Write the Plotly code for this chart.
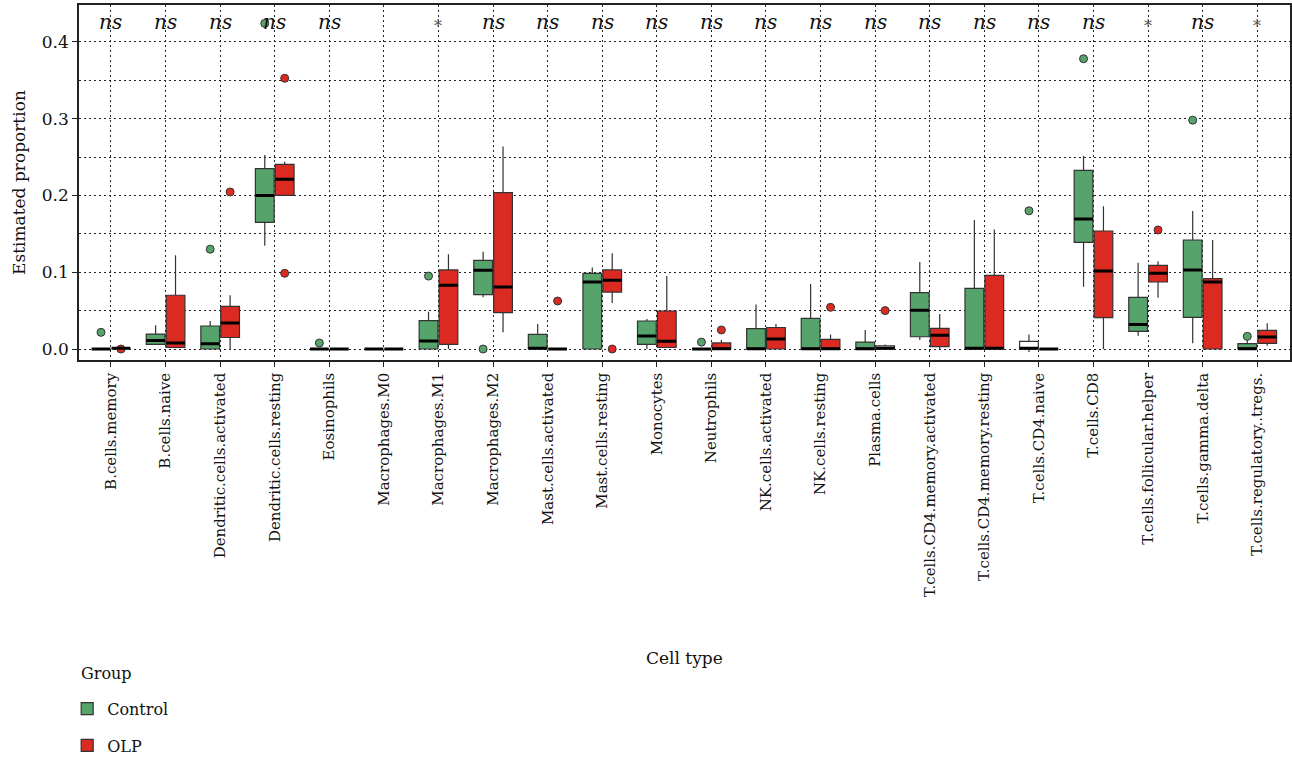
import plotly.graph_objects as go

# Immune cell types (CIBERSORT-style fractions)
cell_types = [
    "B.cells.memory", "B.cells.naive", "Dendritic.cells.activated",
    "Dendritic.cells.resting", "Eosinophils", "Macrophages.M0",
    "Macrophages.M1", "Macrophages.M2", "Mast.cells.activated",
    "Mast.cells.resting", "Monocytes", "Neutrophils", "NK.cells.activated",
    "NK.cells.resting", "Plasma.cells", "T.cells.CD4.memory.activated",
    "T.cells.CD4.memory.resting", "T.cells.CD4.naive", "T.cells.CD8",
    "T.cells.follicular.helper", "T.cells.gamma.delta",
    "T.cells.regulatory..tregs.",
]

# Control group box statistics
ctrl_q1 = [0, 0.006, 0.0, 0.165, 0, 0, 0.0, 0.0708, 0, 0, 0.006, 0, 0, 0, 0,
           0.016, 0, 0, 0.139, 0.023, 0.0413, 0]
ctrl_median = [0, 0.011, 0.007, 0.200, 0, 0, 0.0104, 0.1025, 0.001, 0.0873,
               0.017, 0, 0.0005, 0.0005, 0.0005, 0.0504, 0.001, 0.001, 0.1693,
               0.032, 0.1029, 0.0005]
ctrl_q3 = [0, 0.0195, 0.030, 0.235, 0, 0, 0.037, 0.1155, 0.019, 0.0986, 0.0365,
           0, 0.0265, 0.040, 0.009, 0.0734, 0.079, 0.010, 0.2327, 0.0673,
           0.142, 0.007]
ctrl_lower = [0, 0.006, 0.0, 0.1346, 0, 0, 0.0, 0.0673, 0, 0, 0.0, 0, 0, 0, 0,
              0.0117, 0, -0.004, 0.0812, 0.0174, 0.0074, 0]
ctrl_upper = [0, 0.031, 0.0365, 0.2527, 0, 0, 0.0486, 0.1268, 0.0326, 0.106,
              0.039, 0, 0.058, 0.0847, 0.0247, 0.1133, 0.168, 0.019, 0.2514,
              0.1125, 0.1798, 0.0117]
ctrl_outliers = [[0.0217], [], [0.130], [0.424], [0.0078], [], [0.095], [0.0],
                 [], [], [], [0.009], [], [], [], [], [], [0.180], [0.378], [],
                 [0.298], [0.0165]]

# OLP group box statistics
olp_q1 = [0.001, 0.002, 0.015, 0.200, 0, 0, 0.006, 0.0473, 0, 0.0742, 0.002,
          0.0, 0, 0, 0, 0.003, 0, 0, 0.0408, 0.0873, 0, 0.0074]
olp_median = [0.001, 0.008, 0.034, 0.221, 0, 0, 0.083, 0.0808, 0, 0.0894,
              0.010, 0.0005, 0.013, 0.0005, 0.001, 0.018, 0.001, 0, 0.1016,
              0.0986, 0.0873, 0.0156]
olp_q3 = [0.001, 0.070, 0.0556, 0.2405, 0, 0, 0.103, 0.2036, 0, 0.103, 0.0495,
          0.008, 0.028, 0.0126, 0.004, 0.027, 0.096, 0, 0.1537, 0.109, 0.0916,
          0.0243]
olp_lower = [0.001, 0.002, 0.0, 0.200, 0, 0, 0.0, 0.0217, 0, 0.060, 0.002, 0.0,
             0, 0, 0, 0.0, 0, 0, 0.0, 0.0669, 0, 0.0043]
olp_upper = [0.001, 0.122, 0.070, 0.244, 0, 0, 0.1233, 0.2636, 0, 0.1246,
             0.095, 0.0117, 0.0326, 0.019, 0.006, 0.0456, 0.1555, 0, 0.1858,
             0.1142, 0.142, 0.0334]
olp_outliers = [[0.0], [], [0.2045], [0.3526, 0.0986], [], [], [], [], [0.0625],
                [0.0], [], [0.0248], [], [0.0543], [0.050], [], [], [], [], [0.155],
                [], []]

# Boxes drawn without fill
ctrl_hollow = ["T.cells.CD4.naive"]
olp_hollow = ["Plasma.cells"]

# Wilcoxon significance labels
signif = ["ns", "ns", "ns", "ns", "ns", "", "*", "ns", "ns", "ns", "ns", "ns",
          "ns", "ns", "ns", "ns", "ns", "ns", "ns", "*", "ns", "*"]

GREEN = "#56A36C"
RED = "#DA2A21"
EDGE = "#333333"
FONT = "DejaVu Serif"
INK = "#111111"
DOTS = "2px,3px"

groups = [
    ("Control", GREEN, ctrl_q1, ctrl_median, ctrl_q3, ctrl_lower, ctrl_upper,
     ctrl_outliers, ctrl_hollow),
    ("OLP", RED, olp_q1, olp_median, olp_q3, olp_lower, olp_upper,
     olp_outliers, olp_hollow),
]

fig = go.Figure()


def pick(values, idx):
    return [values[i] for i in idx]


for name, color, q1, med, q3, lo, hi, outl, hollow in groups:
    filled = [i for i, c in enumerate(cell_types) if c not in hollow]
    empty = [i for i, c in enumerate(cell_types) if c in hollow]
    for idx, fill, show in ((filled, color, True), (empty, "white", False)):
        if not idx:
            continue
        fig.add_trace(go.Box(
            name=name, legendgroup=name, showlegend=show, offsetgroup=name,
            x=pick(cell_types, idx), y=pick(outl, idx),
            q1=pick(q1, idx), median=pick(med, idx), q3=pick(q3, idx),
            lowerfence=pick(lo, idx), upperfence=pick(hi, idx),
            fillcolor=fill, line=dict(color=EDGE, width=1.2),
            whiskerwidth=0, boxpoints="outliers", pointpos=0, jitter=0,
            marker=dict(color=color, size=8, line=dict(color=EDGE, width=1)),
        ))
    # thick median bars
    fig.add_trace(go.Box(
        name=name, legendgroup=name, showlegend=False, offsetgroup=name,
        x=cell_types, q1=med, median=med, q3=med, lowerfence=med, upperfence=med,
        fillcolor="rgba(0,0,0,0)", line=dict(color="black", width=3),
        whiskerwidth=0, boxpoints=False, hoverinfo="skip",
    ))

# significance labels above each pair
for cat, lab in zip(cell_types, signif):
    if not lab:
        continue
    if lab == "ns":
        fig.add_annotation(x=cat, y=0.952, xref="x", yref="paper", text="<i>ns</i>",
                           yanchor="middle", showarrow=False,
                           font=dict(family=FONT, size=20, color=INK))
    else:
        fig.add_annotation(x=cat, y=0.94, xref="x", yref="paper", text=lab,
                           yanchor="middle", showarrow=False,
                           font=dict(family=FONT, size=16, color="#555"))

# axis titles and legend heading
fig.add_annotation(x=0.5, y=-0.839, xref="paper", yref="paper", text="Cell type",
                   yanchor="middle", showarrow=False,
                   font=dict(family=FONT, size=17, color=INK))
fig.add_annotation(x=-0.05, y=0.5, xref="paper", yref="paper",
                   text="Estimated proportion", textangle=-90, showarrow=False,
                   xanchor="center", yanchor="middle",
                   font=dict(family=FONT, size=17, color=INK))
fig.add_annotation(x=0.0, y=-0.8817, xref="paper", yref="paper", text="Group",
                   showarrow=False, xanchor="left", yanchor="middle",
                   font=dict(family=FONT, size=16, color=INK))

axis_common = dict(
    showline=True, mirror=True, linecolor="#222", linewidth=1.5,
    ticks="outside", ticklen=5, tickcolor="#222", tickwidth=1,
    showgrid=True, gridcolor="#222", gridwidth=1, griddash=DOTS,
    zeroline=False,
)

fig.update_layout(
    width=1292, height=761,
    margin=dict(l=79, r=2, t=5, b=401, autoexpand=False),
    paper_bgcolor="white", plot_bgcolor="white",
    boxmode="group", boxgap=0.27, boxgroupgap=0.06,
    font=dict(family=FONT, size=16, color=INK),
    xaxis=dict(
        **axis_common, type="category", categoryorder="array",
        categoryarray=cell_types, range=[-0.586, 21.6], tickangle=-90,
        tickfont=dict(family=FONT, size=15, color=INK),
    ),
    yaxis=dict(
        **axis_common, range=[-0.0143, 0.448], tickvals=[0, 0.1, 0.2, 0.3, 0.4],
        ticktext=["0.0", "0.1", "0.2", "0.3", "0.4"],
        tickfont=dict(family=FONT, size=17, color=INK),
        minor=dict(dtick=0.05, tick0=0, showgrid=True, gridcolor="#222",
                   griddash=DOTS, gridwidth=1, ticks=""),
    ),
    legend=dict(
        font=dict(family=FONT, size=16),
        xref="container", yref="container", x=0.052, y=0.091,
        xanchor="left", yanchor="top", traceorder="grouped", tracegroupgap=13,
        bgcolor="rgba(0,0,0,0)",
    ),
)

fig.write_html("out.html")
